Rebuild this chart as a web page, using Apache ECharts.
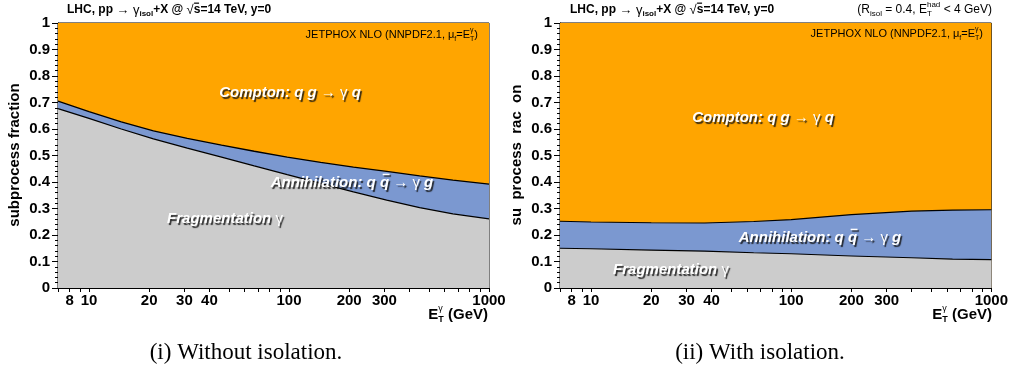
<!DOCTYPE html>
<html>
<head>
<meta charset="utf-8">
<script src="https://cdn.jsdelivr.net/npm/echarts@6/dist/echarts.min.js"></script>
<style>
html,body{margin:0;padding:0;background:#fff;}
#chart{width:1011px;height:373px;}
</style>
</head>
<body>
<div id="chart"></div>
<script>
// Photon transverse energy nodes (GeV) and subprocess boundaries, no isolation
const etNoIso = [7, 10, 14.5, 21, 31, 46, 67, 98, 144, 210, 308, 450, 660, 1000];
const fragTopNoIso = [0.677, 0.640, 0.600, 0.563, 0.528, 0.494, 0.461, 0.428, 0.395, 0.363, 0.332, 0.303, 0.280, 0.261];
const annTopNoIso = [0.705, 0.666, 0.627, 0.593, 0.565, 0.539, 0.516, 0.494, 0.474, 0.456, 0.440, 0.423, 0.407, 0.392];

// Same with isolation cut
const etIso = [7, 10, 20, 37, 65, 100, 200, 400, 640, 1000];
const fragTopIso = [0.150, 0.148, 0.143, 0.139, 0.133, 0.129, 0.121, 0.114, 0.109, 0.107];
const annTopIso = [0.252, 0.249, 0.246, 0.245, 0.251, 0.258, 0.277, 0.290, 0.294, 0.295];

// Axis ticks and labels
const xTickValues = [7, 8, 9, 10, 20, 30, 40, 50, 60, 70, 80, 90, 100, 200, 300, 400, 500, 600, 700, 800, 900, 1000];
const xLabelValues = [8, 10, 20, 30, 40, 100, 200, 300, 1000];
const xMin = 7, xMax = 1000;

const SANS = '"Liberation Sans", Arial, sans-serif';
const SERIF = '"Liberation Serif", "Times New Roman", serif';
const COL_COMPTON = '#ffa500';
const COL_ANN = '#7b98d0';
const COL_FRAG = '#cccccc';

const lg = v => Math.round(Math.log10(v) * 1e9) / 1e9;

const chart = echarts.init(document.getElementById('chart'), null, { renderer: 'canvas' });

const grids = [
  { left: 58, top: 23, width: 431, height: 265 },
  { left: 560, top: 23, width: 433, height: 265 }
];

function xAxisFor(gi) {
  return {
    type: 'value', gridIndex: gi, min: lg(xMin), max: lg(xMax),
    axisLine: { show: true, lineStyle: { color: '#000', width: 1 } },
    axisTick: { show: true, inside: false, length: 4, customValues: xTickValues.map(lg), lineStyle: { color: '#000' } },
    axisLabel: {
      show: true, margin: 5, customValues: xLabelValues.map(lg),
      formatter: v => String(Math.round(Math.pow(10, v))),
      fontFamily: SANS, fontWeight: 'bold', fontSize: 15, color: '#000'
    },
    splitLine: { show: false }
  };
}
function yAxisFor(gi) {
  return {
    type: 'value', gridIndex: gi, min: 0, max: 1, interval: 0.1,
    axisLine: { show: true, lineStyle: { color: '#000', width: 1 } },
    axisTick: { show: true, inside: false, length: 6, lineStyle: { color: '#000' } },
    minorTick: { show: true, splitNumber: 5, length: 3, lineStyle: { color: '#000' } },
    axisLabel: {
      margin: 8, fontFamily: SANS, fontWeight: 'bold', fontSize: 15, color: '#000',
      formatter: v => (Math.abs(v) < 1e-9 ? '0' : Math.abs(v - 1) < 1e-9 ? '1' : v.toFixed(1))
    },
    splitLine: { show: false }
  };
}

function areaSeries(gi, xs, ys, color, lineW) {
  return {
    type: 'line', xAxisIndex: gi, yAxisIndex: gi,
    data: xs.map((x, i) => [lg(x), ys[i]]),
    showSymbol: false, symbol: 'none', smooth: false,
    lineStyle: { color: '#000', width: lineW },
    areaStyle: { color: color, opacity: 1, origin: 'start' },
    silent: true, animation: false
  };
}

const series = [
  areaSeries(0, etNoIso, etNoIso.map(() => 1), COL_COMPTON, 0),
  areaSeries(0, etNoIso, annTopNoIso, COL_ANN, 1.3),
  areaSeries(0, etNoIso, fragTopNoIso, COL_FRAG, 1.3),
  areaSeries(1, etIso, etIso.map(() => 1), COL_COMPTON, 0),
  areaSeries(1, etIso, annTopIso, COL_ANN, 1.1),
  areaSeries(1, etIso, fragTopIso, COL_FRAG, 1.1)
];

// Text layout helpers (pieces placed side by side, scripts may stack)
const mctx = document.createElement('canvas').getContext('2d');
function tw(t, font) { mctx.font = font; return mctx.measureText(t).width; }

function textRun(x, y, parts, align, base) {
  base = base || {};
  const items = [];
  let total = 0, pending = 0;
  const adv = parts.map(p => {
    const w = tw(p.t, p.font);
    if (p.noAdv) { pending = w; return { w, a: 0 }; }
    const a = Math.max(w, pending); pending = 0; total += a; return { w, a };
  });
  let cx = align === 'right' ? x - total : align === 'center' ? x - total / 2 : x;
  parts.forEach((p, i) => {
    const st = {
      text: p.t, font: p.font, fill: base.fill || '#000',
      align: 'left', textAlign: 'left', verticalAlign: 'middle', textVerticalAlign: 'middle'
    };
    if (base.shadow) {
      st.textShadowColor = base.shadow; st.textShadowOffsetX = 1.5; st.textShadowOffsetY = 1.5; st.textShadowBlur = 1;
    }
    items.push({ type: 'text', x: cx, y: y + (p.dy || 0), silent: true, z: 100, style: st });
    if (p.bar) {
      const fs = p.fs || 15;
      const bst = { fill: base.fill || '#000' };
      if (base.shadow) { bst.shadowColor = base.shadow; bst.shadowOffsetX = 1.5; bst.shadowOffsetY = 1.5; bst.shadowBlur = 1; }
      items.push({ type: 'rect', silent: true, z: 100,
        shape: { x: cx + adv[i].w * (p.skew || 0.2), y: y + (p.dy || 0) - fs * 0.62, width: adv[i].w * 0.75, height: Math.max(1.2, fs * 0.1) },
        style: bst });
    }
    cx += adv[i].a;
  });
  return items;
}

const B12 = 'bold 12px ' + SANS, N13 = '13px ' + SANS, B8 = 'bold 8px ' + SANS;
function headerTitle(x) {
  return textRun(x, 10, [
    { t: 'LHC, pp ', font: B12 },
    { t: '\u2192 \u03b3', font: N13 },
    { t: 'isol', font: B8, dy: 4 },
    { t: '+X @ ', font: B12 },
    { t: '\u221a', font: N13 },
    { t: 's', font: B12, bar: true, fs: 12, skew: 0.05 },
    { t: '=14 TeV, y=0', font: B12 }
  ], 'left');
}
const N11 = '11px ' + SANS, N7 = '7px ' + SANS;
function jetphox(xr, y) {
  return textRun(xr, y, [
    { t: 'JETPHOX NLO (NNPDF2.1, ', font: N11 },
    { t: '\u03bc', font: N11 },
    { t: 'f', font: N7, dy: 4 },
    { t: '=E', font: N11 },
    { t: '\u03b3', font: N7, dy: -5, noAdv: true },
    { t: 'T', font: N7, dy: 4 },
    { t: ')', font: N11 }
  ], 'right');
}
const B15 = 'bold 15px ' + SANS, B9x = 'bold 9px ' + SANS, N9 = '9px ' + SANS;
function etTitle(xr) {
  return textRun(xr, 315, [
    { t: 'E', font: B15 },
    { t: '\u03b3', font: N9, dy: -6, noAdv: true },
    { t: 'T', font: B9x, dy: 5 },
    { t: ' (GeV)', font: B15 }
  ], 'right');
}
const BI15 = 'italic bold 15px ' + SANS, N15 = '15px ' + SANS;
const white = { fill: '#ffffff', shadow: 'rgba(20,20,20,0.85)' };
function comptonLabel(x, y) {
  return textRun(x, y, [
    { t: 'Compton: q g ', font: BI15 },
    { t: '\u2192 \u03b3 ', font: N15 },
    { t: 'q', font: BI15 }
  ], 'center', white);
}
function annLabel(x, y) {
  return textRun(x, y, [
    { t: 'Annihilation: q ', font: BI15 },
    { t: 'q', font: BI15, bar: true, fs: 15, skew: 0.3 },
    { t: ' ', font: BI15 },
    { t: '\u2192 \u03b3 ', font: N15 },
    { t: 'g', font: BI15 }
  ], 'center', white);
}
function fragLabel(x, y) {
  return textRun(x, y, [
    { t: 'Fragmentation ', font: BI15 },
    { t: '\u03b3', font: N15 }
  ], 'center', white);
}
const N12 = '12px ' + SANS, N8 = '8px ' + SANS;

const graphics = [].concat(
  headerTitle(67),
  headerTitle(570),
  textRun(992, 10, [
    { t: '(R', font: N12 },
    { t: 'isol', font: N8, dy: 4 },
    { t: ' = 0.4, E', font: N12 },
    { t: 'had', font: N8, dy: -5, noAdv: true },
    { t: 'T', font: N8, dy: 4 },
    { t: ' < 4 GeV)', font: N12 }
  ], 'right'),
  jetphox(478, 35),
  jetphox(983, 34),
  etTitle(488),
  etTitle(992),
  comptonLabel(290, 93),
  annLabel(352, 183),
  fragLabel(225, 219),
  comptonLabel(763, 118),
  annLabel(820, 238),
  fragLabel(671, 270),
  [
    { type: 'text', x: 15, y: 155, rotation: Math.PI / 2, silent: true, z: 100,
      style: { text: 'subprocess fraction', font: 'bold 15px ' + SANS, fill: '#000', align: 'center', textAlign: 'center', verticalAlign: 'middle', textVerticalAlign: 'middle' } },
    { type: 'text', x: 517, y: 155, rotation: Math.PI / 2, silent: true, z: 100,
      style: { text: 'su  process  rac  on', font: 'bold 15px ' + SANS, fill: '#000', align: 'center', textAlign: 'center', verticalAlign: 'middle', textVerticalAlign: 'middle' } },
    { type: 'text', x: 246, y: 353, silent: true, z: 100,
      style: { text: '(i) Without isolation.', font: '23px ' + SERIF, fill: '#000', align: 'center', textAlign: 'center', verticalAlign: 'middle', textVerticalAlign: 'middle' } },
    { type: 'text', x: 760, y: 353, silent: true, z: 100,
      style: { text: '(ii) With isolation.', font: '23px ' + SERIF, fill: '#000', align: 'center', textAlign: 'center', verticalAlign: 'middle', textVerticalAlign: 'middle' } }
  ]
);

chart.setOption({
  animation: false,
  backgroundColor: '#ffffff',
  grid: grids.map(g => Object.assign({ show: true, borderColor: '#000', borderWidth: 1, backgroundColor: 'transparent', containLabel: false }, g)),
  xAxis: [xAxisFor(0), xAxisFor(1)],
  yAxis: [yAxisFor(0), yAxisFor(1)],
  series: series,
  graphic: { elements: graphics }
});
</script>
</body>
</html>
